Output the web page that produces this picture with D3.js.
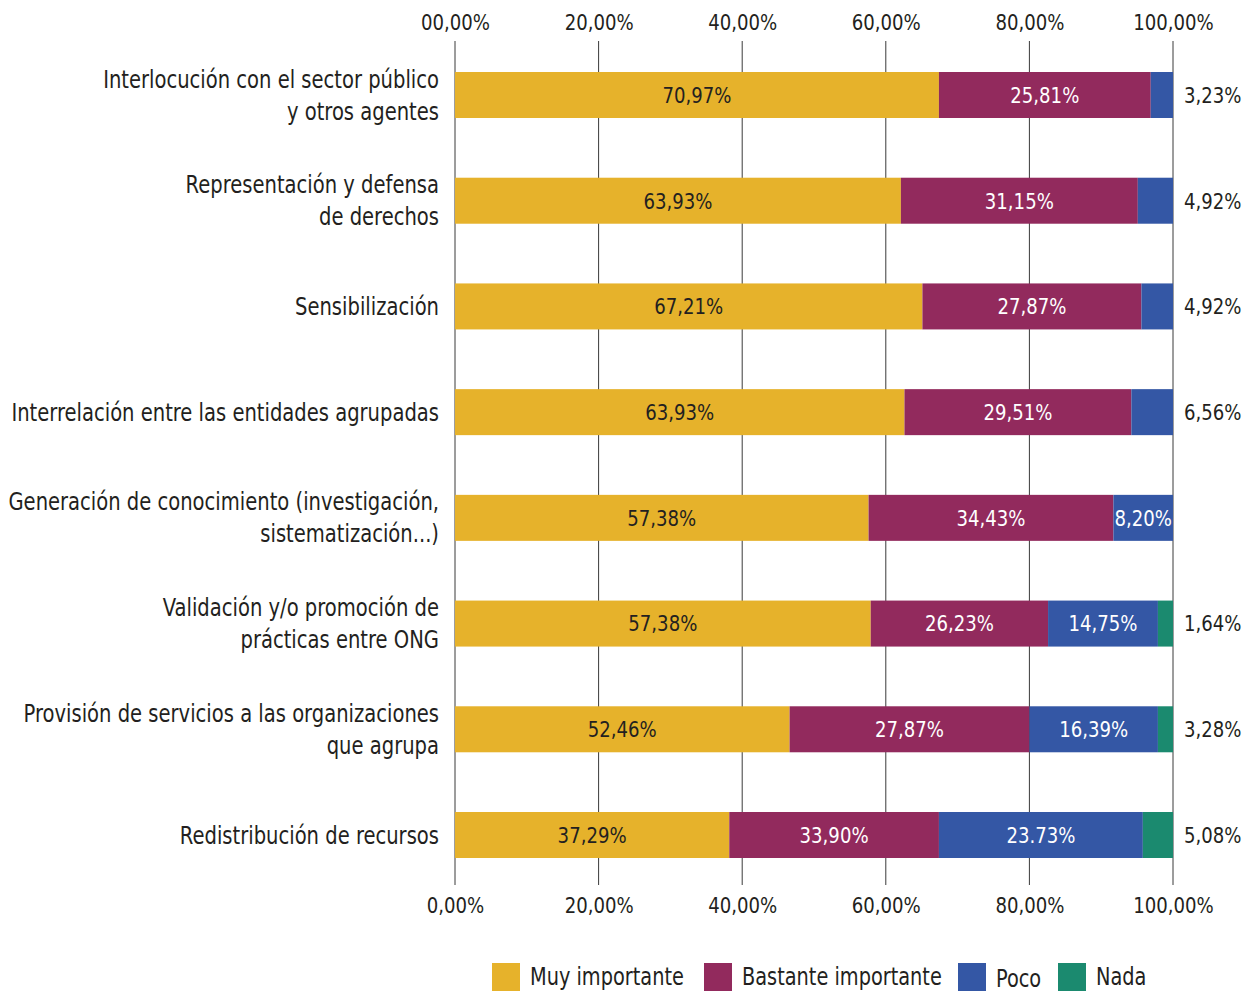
<!DOCTYPE html>
<html>
<head>
<meta charset="utf-8">
<script src="https://cdn.jsdelivr.net/npm/d3@7"></script>
<style>
  html, body { margin: 0; padding: 0; background: #fff; }
  svg text { font-family: "Liberation Sans Narrow", "Arial Narrow", "DejaVu Sans Condensed", sans-serif; }
</style>
</head>
<body>
<svg id="chart" width="1252" height="991"></svg>
<script>
// ---- data ----
const categories = [
  ["Interlocución con el sector público", "y otros agentes"],
  ["Representación y defensa", "de derechos"],
  ["Sensibilización"],
  ["Interrelación entre las entidades agrupadas"],
  ["Generación de conocimiento (investigación,", "sistematización...)"],
  ["Validación y/o promoción de", "prácticas entre ONG"],
  ["Provisión de servicios a las organizaciones", "que agrupa"],
  ["Redistribución de recursos"]
];
const seriesNames = ["Muy importante", "Bastante importante", "Poco", "Nada"];
// segment widths as drawn in the picture (percent of bar)
const muyImportante      = [67.4, 62.1, 65.1, 62.6, 57.6, 57.9, 46.6, 38.2];
const bastanteImportante = [29.5, 33.0, 30.5, 31.6, 34.1, 24.7, 33.4, 29.2];
const poco               = [3.1, 4.9, 4.4, 5.8, 8.3, 15.3, 17.9, 28.4];
const nada               = [0, 0, 0, 0, 0, 2.1, 2.1, 4.2];
// printed value labels
const muyLabels  = ["70,97%", "63,93%", "67,21%", "63,93%", "57,38%", "57,38%", "52,46%", "37,29%"];
const bastLabels = ["25,81%", "31,15%", "27,87%", "29,51%", "34,43%", "26,23%", "27,87%", "33,90%"];
const pocoLabels = ["3,23%", "4,92%", "4,92%", "6,56%", "8,20%", "14,75%", "16,39%", "23.73%"];
const nadaLabels = ["", "", "", "", "", "1,64%", "3,28%", "5,08%"];
const tickValues = [0, 20, 40, 60, 80, 100];
const topTickLabels = ["00,00%", "20,00%", "40,00%", "60,00%", "80,00%", "100,00%"];
const bottomTickLabels = ["0,00%", "20,00%", "40,00%", "60,00%", "80,00%", "100,00%"];

const colors = ["#E6B22B", "#922A5D", "#3457A5", "#1B8A6F"];
const textDark = "#231F20";

// ---- build ----
const svg = d3.select("#chart");

// horizontal condensing helper to emulate a condensed typeface
function measure(str, size) {
  const t = svg.append("text").attr("font-size", size).text(str);
  const w = t.node().getComputedTextLength();
  t.remove();
  return w;
}
const catScale  = Math.min(1, 336 / measure("Interlocución con el sector público", 24));
const numScale  = Math.min(1, 69 / measure("70,97%", 22));
const tickScale = Math.min(1, 69 / measure("00,00%", 21));
const legScale  = Math.min(1, 154 / measure("Muy importante", 25));
function condense(sel, s) {
  sel.each(function () {
    const t = d3.select(this);
    const ax = +t.attr("x") || 0, ay = +t.attr("y") || 0;
    t.attr("transform", `translate(${ax},${ay}) scale(${s},1) translate(${-ax},${-ay})`);
  });
}

const x = d3.scaleLinear().domain([0, 100]).range([455, 1173]);
const keys = categories.map((c, i) => i);
const y = d3.scalePoint().domain(keys).range([95, 835]);
const barH = 46;

const rows = keys.map(i => ({
  i,
  vals: [muyImportante[i], bastanteImportante[i], poco[i], nada[i]],
  labels: [muyLabels[i], bastLabels[i], pocoLabels[i], nadaLabels[i]]
}));

// grid lines
svg.append("g").selectAll("line").data(tickValues).join("line")
  .attr("x1", d => x(d)).attr("x2", d => x(d))
  .attr("y1", 41).attr("y2", 885)
  .attr("stroke", "#3a3a3a").attr("stroke-width", 1);

// top axis labels
const topAxis = d3.axisTop(x).tickValues(tickValues).tickSize(0).tickPadding(0)
  .tickFormat((d, i) => topTickLabels[i]);
const gTop = svg.append("g").attr("transform", "translate(0,30)").call(topAxis);
gTop.select(".domain").remove();
gTop.selectAll("text").attr("font-size", 21).attr("fill", textDark)
  .attr("font-family", null).attr("dy", 0).attr("y", 0).call(condense, tickScale);

const bottomAxis = d3.axisBottom(x).tickValues(tickValues).tickSize(0).tickPadding(0)
  .tickFormat((d, i) => bottomTickLabels[i]);
const gBot = svg.append("g").attr("transform", "translate(0,913)").call(bottomAxis);
gBot.select(".domain").remove();
gBot.selectAll("text").attr("font-size", 21).attr("fill", textDark)
  .attr("font-family", null).attr("dy", 0).attr("y", 0).call(condense, tickScale);

// bars
const outsideLabels = [];
rows.forEach(r => {
  let acc = 0;
  const g = svg.append("g");
  r.vals.forEach((v, k) => {
    if (v <= 0) return;
    const x0 = x(acc), x1 = x(acc + v);
    acc += v;
    g.append("rect")
      .attr("x", x0).attr("y", y(r.i) - barH / 2)
      .attr("width", x1 - x0).attr("height", barH)
      .attr("fill", colors[k]);
    const lbl = r.labels[k];
    if (!lbl) return;
    if (x1 - x0 >= 50) {
      g.append("text")
        .attr("x", (x0 + x1) / 2).attr("y", y(r.i))
        .attr("dy", "0.36em")
        .attr("text-anchor", "middle")
        .attr("font-size", 22)
        .attr("fill", k === 0 ? textDark : "#ffffff")
        .text(lbl)
        .call(condense, numScale);
    } else {
      outsideLabels.push({ i: r.i, lbl });
    }
  });
});
svg.append("g").selectAll("text").data(outsideLabels).join("text")
  .attr("x", x(100) + 11).attr("y", d => y(d.i))
  .attr("dy", "0.36em")
  .attr("font-size", 22).attr("fill", textDark)
  .text(d => d.lbl)
  .call(condense, numScale);

// category labels
const catG = svg.append("g");
categories.forEach((lines, i) => {
  const n = lines.length;
  lines.forEach((ln, j) => {
    catG.append("text")
      .attr("x", 439)
      .attr("y", y(i) + (j - (n - 1) / 2) * 32)
      .attr("dy", "0.36em")
      .attr("text-anchor", "end")
      .attr("font-size", 24)
      .attr("fill", textDark)
      .text(ln)
      .call(condense, catScale);
  });
});

// legend
const legendX = [492, 704, 958, 1058];
const legG = svg.append("g");
seriesNames.forEach((name, k) => {
  legG.append("rect")
    .attr("x", legendX[k]).attr("y", 963)
    .attr("width", 28).attr("height", 28)
    .attr("fill", colors[k]);
  legG.append("text")
    .attr("x", legendX[k] + 38).attr("y", k === 2 ? 978 : 976)
    .attr("dy", "0.36em")
    .attr("font-size", 25).attr("fill", textDark)
    .text(name)
    .call(condense, legScale);
});
</script>
</body>
</html>
